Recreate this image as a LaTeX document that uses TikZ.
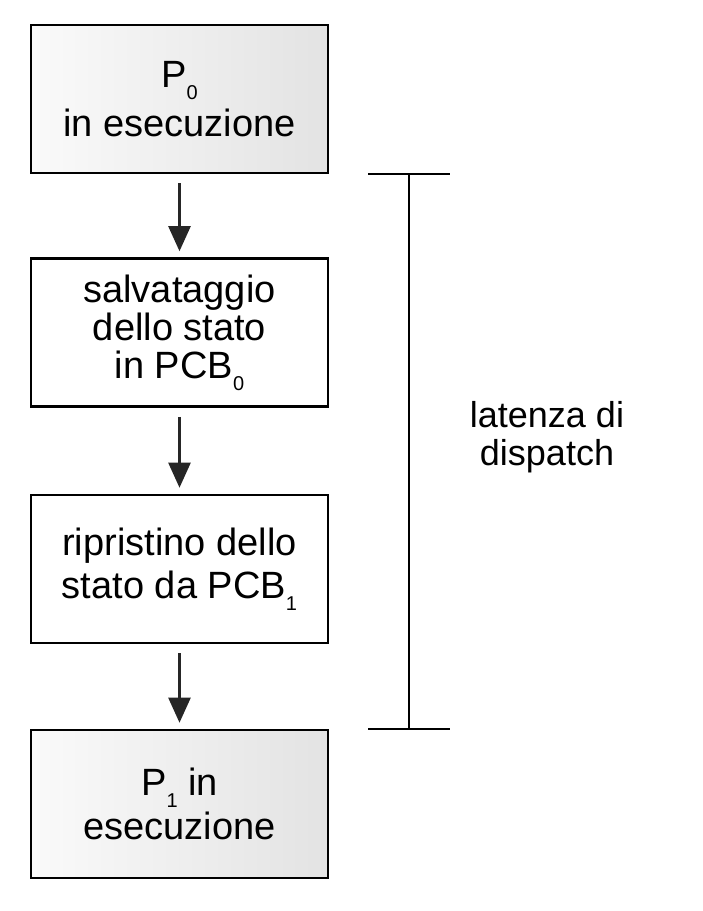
\documentclass[tikz,border=0pt]{standalone}
\usepackage{fontspec}
\setmainfont{Liberation Sans}
\usetikzlibrary{arrows.meta}
\newcommand{\sbx}[1]{\raisebox{-0.32em}{\fontsize{20}{20}\selectfont #1}}
\tikzset{
  stepbox/.style={draw=black, line width=2.6pt, minimum width=297pt, minimum height=148pt,
    inner sep=0pt, align=center, font=\fontsize{38}{38}\selectfont},
  shadedbox/.style={stepbox, left color=black!2, right color=black!11},
  plainbox/.style={stepbox, fill=white},
  flowarrow/.style={line width=2.4pt, draw=black!85, -{Triangle[width=22pt,length=25pt]},
    shorten <=9pt, shorten >=6pt},
  bracketline/.style={line width=2.4pt, draw=black}
}
\begin{document}
\begin{tikzpicture}[x=1pt,y=-1pt]
  \useasboundingbox (0,0) rectangle (703,911);
  \fill[white] (0,0) rectangle (703,911);

  \node[shadedbox] (p0) at (179.5,99) {P\sbx{0}\\[8pt]in esecuzione};
  \node[plainbox] (save) at (179.5,332.5) {salvataggio\\dello stato\\in PCB\sbx{0}};
  \node[plainbox] (restore) at (179.5,569) {ripristino dello\\[5pt]stato da PCB\sbx{1}};
  \node[shadedbox] (p1) at (179.5,804) {P\sbx{1} in\\[4pt]esecuzione};

  \draw[flowarrow] (p0.south) -- (save.north);
  \draw[flowarrow] (save.south) -- (restore.north);
  \draw[flowarrow] (restore.south) -- (p1.north);

  \coordinate (ttop) at (409,174);
  \coordinate (tbot) at (409,729);
  \coordinate (ttl) at (368,174);
  \coordinate (ttr) at (450,174);
  \coordinate (tbl) at (368,729);
  \coordinate (tbr) at (450,729);
  \draw[bracketline] (ttop) -- (tbot);
  \draw[bracketline] (ttl) -- (ttr);
  \draw[bracketline] (tbl) -- (tbr);

  \node[align=center, font=\fontsize{36}{38}\selectfont, inner sep=0pt] (lat) at (547,437) {latenza di\\dispatch};
\end{tikzpicture}
\end{document}
